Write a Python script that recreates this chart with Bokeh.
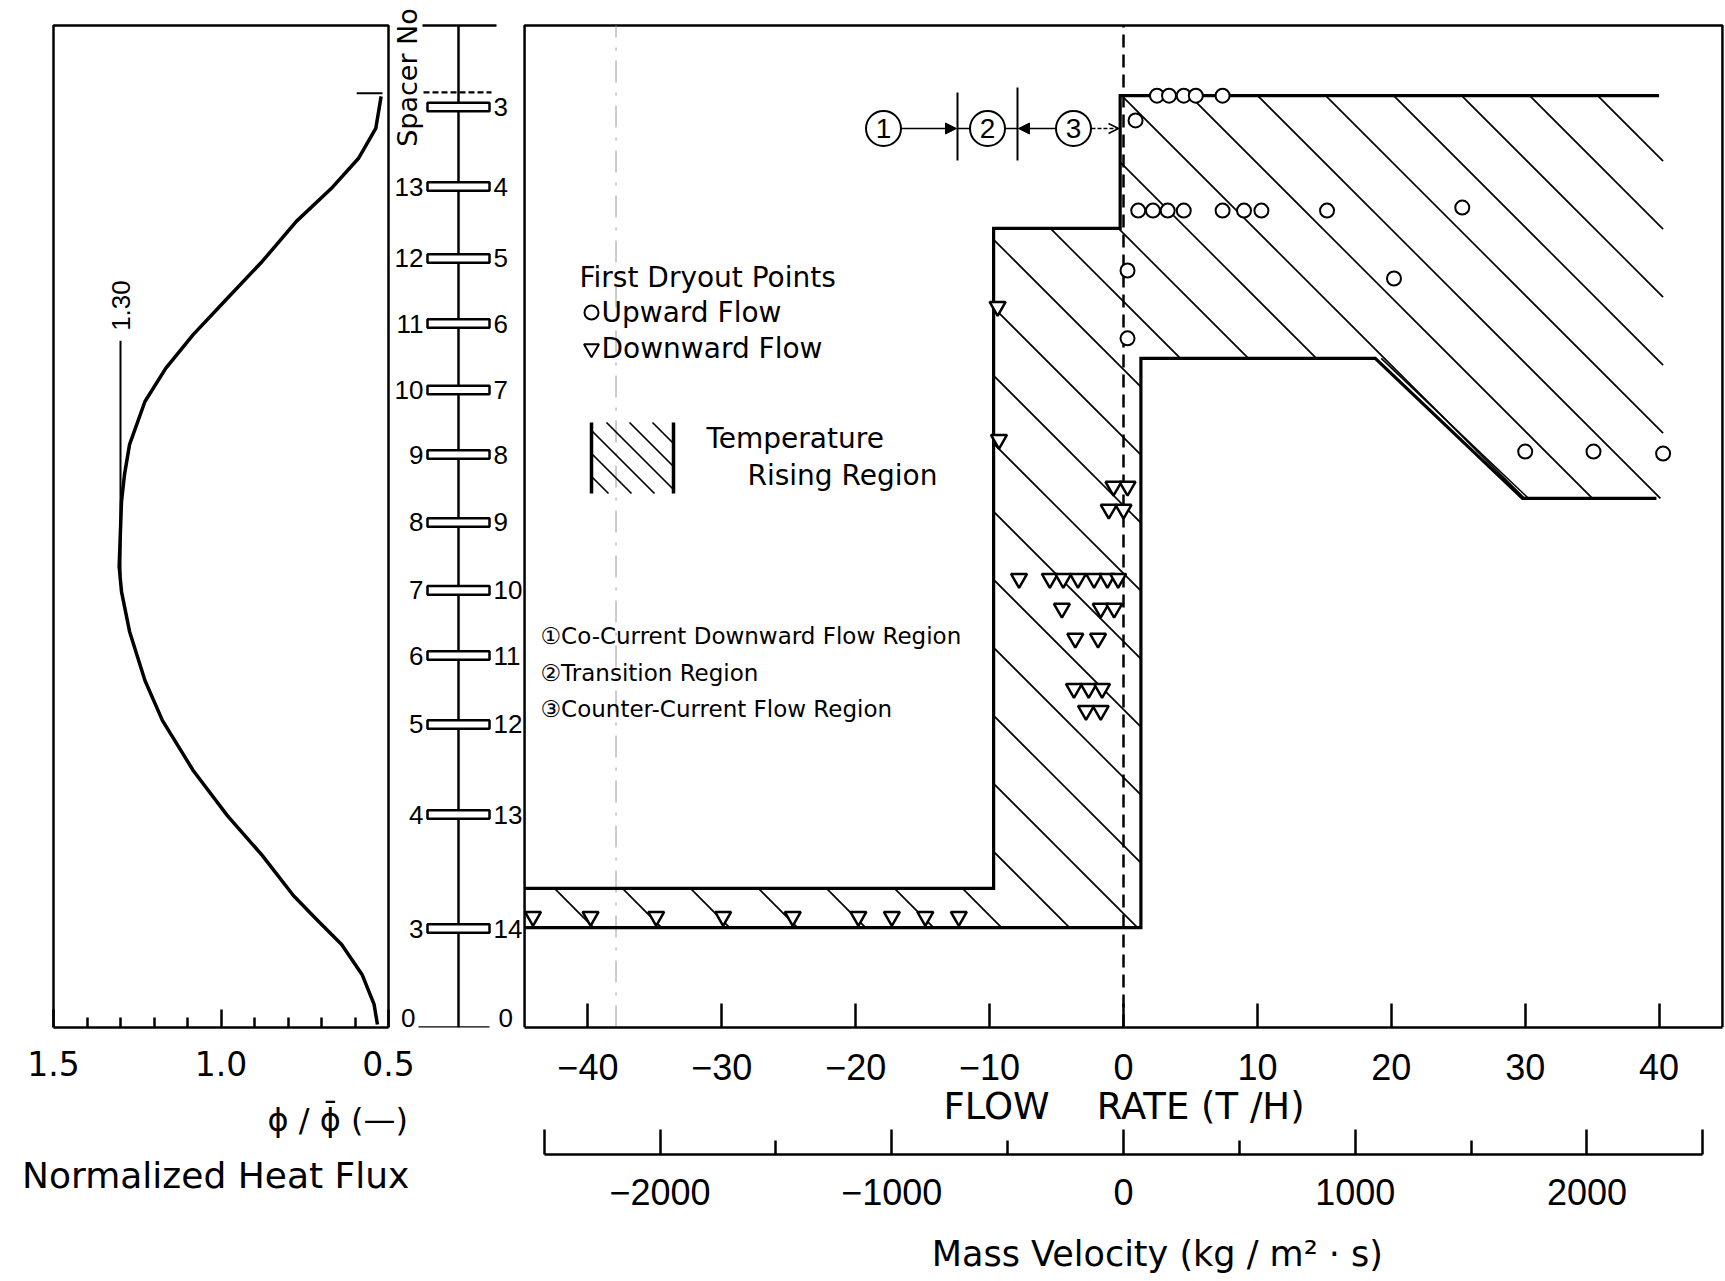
import math
from bokeh.plotting import figure
from bokeh.layouts import row
from bokeh.models import Range1d, LinearAxis, FixedTicker, Label, Arrow, NormalHead, OpenHead
from bokeh.embed import file_html
from bokeh.resources import INLINE
from bokeh.core.properties import value

# ---------------- data ----------------
# axial heat flux profile (height in mm from bottom of heated length)
flux_height_mm = [3717, 3589, 3469, 3349, 3218, 3058, 2898, 2766, 2631, 2499, 2327, 2208,
                  2100, 1840, 1740, 1581, 1385, 1226, 1026, 846, 687, 527, 429, 331, 212, 92, 12]
flux_ratio = [0.522, 0.538, 0.590, 0.671, 0.775, 0.877, 0.990, 1.083, 1.165, 1.227, 1.273, 1.288,
              1.297, 1.304, 1.297, 1.273, 1.227, 1.175, 1.083, 0.981, 0.877, 0.784, 0.713, 0.640,
              0.579, 0.543, 0.533]
peak_ratio = 1.30

# spacer grid positions and their numbers counted from either end
spacer_height_mm = [3675, 3357, 3070, 2810, 2545, 2287, 2016, 1745, 1485, 1210, 850, 395]
spacer_no_left = ["", "13", "12", "11", "10", "9", "8", "7", "6", "5", "4", "3"]
spacer_no_right = ["3", "4", "5", "6", "7", "8", "9", "10", "11", "12", "13", "14"]

# temperature rising region (flow rate T/H, height mm)
region_flow = [-0.25, 40.3, 40.3, 29.8, 18.8, 1.3, 1.3, -44.73, -44.73, -9.7, -9.7, -0.25]
region_height = [3720, 3720, 2112, 2112, 2671, 2671, 399, 399, 555, 555, 3190, 3190]
upper_edge_flow = [40.0, -0.25, -0.25, -9.7, -9.7, -44.73]
upper_edge_height = [3720, 3720, 3190, 3190, 555, 555]
lower_edge_flow = [-44.73, 1.3, 1.3, 18.8, 29.8, 39.8]
lower_edge_height = [399, 399, 2671, 2671, 2112, 2112]

# first dryout points, upward flow
up_flow = [2.5, 3.4, 4.5, 5.4, 7.4, 0.9, 1.1, 2.2, 3.3, 4.5, 7.4, 9.0, 10.3, 15.2, 25.3,
           20.2, 0.3, 0.3, 30.0, 35.1, 40.3]
up_height = [3720, 3720, 3720, 3720, 3720, 3621, 3261, 3261, 3261, 3261, 3261, 3261, 3261, 3261, 3273,
             2990, 3022, 2751, 2299, 2299, 2291]

# first dryout points, downward flow
down_flow = [-9.4, -9.3, -0.75, 0.3, -1.1, 0.0, -7.8, -5.5, -4.5, -3.4, -2.2, -1.2, -0.4,
             -4.6, -1.7, -0.7, -3.6, -1.9, -3.7, -2.6, -1.6, -2.8, -1.7,
             -44.1, -39.8, -34.9, -29.9, -24.7, -19.8, -17.3, -14.8, -12.3]
down_height = [2878, 2347, 2160, 2160, 2068, 2068, 1792, 1792, 1792, 1792, 1792, 1792, 1792,
               1673, 1673, 1673, 1553, 1553, 1353, 1353, 1353, 1265, 1265,
               443, 443, 443, 443, 443, 443, 443, 443, 443]

flow_ticks = [-40, -30, -20, -10, 0, 10, 20, 30, 40]
mass_ticks = [-2500, -2000, -1000, 0, 1000, 2000, 2500]
mass_minor = [-1500, -500, 500, 1500]
mass_labels = {-2500: "", -2000: "\u22122000", -1000: "\u22121000", 0: "0", 1000: "1000", 2000: "2000", 2500: ""}
flux_ticks = [1.5, 1.0, 0.5]
flux_minor = [1.4, 1.3, 1.2, 1.1, 0.9, 0.8, 0.7, 0.6]

# ---------------- scales ----------------
MM_PER_PX = 4000 / 1002          # vertical scale shared by both panels
BASE_PY = 1027                   # screen row of zero height
TOP_MM = BASE_PY * MM_PER_PX     # height at the top edge of the page
FLOW_PX = 13.39                  # pixels per T/H
FLOW_ZERO_PX = 1123
MAIN_LEFT_PX = 522
FLOW_LO = (MAIN_LEFT_PX - FLOW_ZERO_PX) / FLOW_PX
FLOW_HI = (1725 - FLOW_ZERO_PX) / FLOW_PX
FLOW_EDGE = 44.73
MASS_PER_FLOW = 57.78
PHI_PX = 335                     # pixels per unit of normalized flux
PHI_15_PX = 53                   # screen column of phi = 1.5
SPACER_PX = 458                  # screen column of the spacer scale

SANS = "Liberation Sans"
DJ = "DejaVu Sans"
NB = "\u00a0"


def fx(px):
    return (px - FLOW_ZERO_PX) / FLOW_PX


def hy(py):
    return (BASE_PY - py) * MM_PER_PX


def hatch_lines(poly_x, poly_y, spacing, phase):
    """45 degree hatch (falling to the right on screen) clipped to a polygon."""
    pts = [(FLOW_ZERO_PX + FLOW_PX * a, BASE_PY - b / MM_PER_PX) for a, b in zip(poly_x, poly_y)]
    n = len(pts)
    d = [py - px for px, py in pts]
    k0 = math.ceil((min(d) - phase) / spacing)
    k1 = math.floor((max(d) - phase) / spacing)
    xs, ys = [], []
    for k in range(k0, k1 + 1):
        c = phase + k * spacing
        hits = []
        for i in range(n):
            (x1, y1), (x2, y2) = pts[i], pts[(i + 1) % n]
            f1, f2 = y1 - x1 - c, y2 - x2 - c
            if (f1 < 0) != (f2 < 0):
                t = f1 / (f1 - f2)
                hits.append(x1 + t * (x2 - x1))
        hits.sort()
        for a, b in zip(hits[0::2], hits[1::2]):
            xs.append([fx(a), fx(b)])
            ys.append([hy(a + c), hy(b + c)])
    return xs, ys


def caption_axis(text, size, standoff):
    ax = LinearAxis(ticker=FixedTicker(ticks=[], minor_ticks=[]), axis_label=text)
    ax.axis_line_color = None
    ax.major_tick_in = 0
    ax.major_tick_out = 0
    ax.minor_tick_in = 0
    ax.minor_tick_out = 0
    ax.axis_label_standoff = standoff
    ax.axis_label_text_font = DJ
    ax.axis_label_text_font_size = size
    ax.axis_label_text_font_style = "normal"
    ax.axis_label_text_color = "black"
    return ax


# ---------------- left panel: heat flux + spacer column ----------------
phi_start = 1.5 + PHI_15_PX / PHI_PX
pa = figure(width=MAIN_LEFT_PX, height=1281,
            x_range=Range1d(phi_start, phi_start - MAIN_LEFT_PX / PHI_PX),
            y_range=Range1d(0, TOP_MM),
            min_border_left=0, min_border_right=0, min_border_top=0, min_border_bottom=254,
            x_axis_location=None, y_axis_location=None,
            output_backend="svg", toolbar_location=None)
pa.outline_line_color = None
pa.grid.visible = False
pa.extra_x_ranges = {"sp": Range1d(-SPACER_PX, MAIN_LEFT_PX - SPACER_PX)}

ax_phi = LinearAxis(ticker=FixedTicker(ticks=flux_ticks, minor_ticks=flux_minor), bounds=(1.5, 0.5),
                    major_label_overrides={1.5: "1.5", 1.0: "1.0", 0.5: "0.5"})
ax_phi.axis_line_width = 2.5
ax_phi.major_tick_in = 18
ax_phi.major_tick_out = 0
ax_phi.minor_tick_in = 10
ax_phi.minor_tick_out = 0
ax_phi.major_tick_line_width = 2.5
ax_phi.minor_tick_line_width = 2.5
ax_phi.major_label_standoff = 23
ax_phi.major_label_text_font = DJ
ax_phi.major_label_text_font_size = "33px"
ax_phi.major_label_text_color = "black"
pa.add_layout(ax_phi, "below")

pa.add_layout(caption_axis(NB * 15 + "\u03d5 / \u03d5\u0304 (\u2014)", "32px", 22), "below")
pa.add_layout(caption_axis("Normalized Heat Flux" + NB * 8, "36px", 13), "below")

# panel box
pa.line([1.5, 1.5, 0.5, 0.5], [0, 4000, 4000, 0], line_color="black", line_width=2.5)
# heat flux curve
pa.line(flux_ratio, flux_height_mm, line_color="black", line_width=3.5, line_join="round")
# top of heated length mark
pa.line([0.595, 0.518], [3730, 3730], line_color="black", line_width=2)
# peak value marker
pa.line([peak_ratio, peak_ratio], [2742, 1804], line_color="black", line_width=2)
pa.add_layout(Label(x=peak_ratio, y=2882, text=f"{peak_ratio:.2f}", angle=math.pi / 2,
                    text_align="center", text_baseline="middle", text_font=SANS,
                    text_font_size="26px", text_color="black"))

# spacer column
pa.line([0, 0], [0, 4000], x_range_name="sp", line_color="black", line_width=2.5)
pa.line([-36, 38], [4000, 4000], x_range_name="sp", line_color="black", line_width=2.5)
pa.line([-40, 31], [0, 0], x_range_name="sp", line_color="black", line_width=2.5)
pa.line([-35, 33], [3733, 3733], x_range_name="sp", line_color="black", line_width=2.2, line_dash="6 3")
pa.quad(left=-31, right=31, bottom=[h - 17 for h in spacer_height_mm], top=[h + 17 for h in spacer_height_mm],
        x_range_name="sp", fill_color="white", line_color="black", line_width=2.5)
pa.text(x=[-35] * len(spacer_height_mm), y=spacer_height_mm, text=spacer_no_left, x_range_name="sp",
        text_align="right", text_baseline="middle", text_font=value(SANS), text_font_size="26px")
pa.text(x=[35] * len(spacer_height_mm), y=spacer_height_mm, text=spacer_no_right, x_range_name="sp",
        text_align="left", text_baseline="middle", text_font=value(SANS), text_font_size="26px")
pa.text(x=[-43, 40], y=[36, 36], text=["0", "0"], x_range_name="sp", text_align=["right", "left"],
        text_baseline="middle", text_font=value(SANS), text_font_size="26px")
pa.add_layout(Label(x=-51, y=hy(77), x_range_name="sp", text="Spacer No",
                    angle=math.pi / 2, text_align="center", text_baseline="middle",
                    text_font=DJ, text_font_size="27px", text_color="black"))

# ---------------- main panel: flow rate ----------------
p = figure(width=1725 - MAIN_LEFT_PX, height=1281,
           x_range=Range1d(FLOW_LO, FLOW_HI), y_range=Range1d(0, TOP_MM),
           min_border_left=0, min_border_right=0, min_border_top=0, min_border_bottom=254,
           x_axis_location=None, y_axis_location=None,
           output_backend="svg", toolbar_location=None)
p.outline_line_color = None
p.grid.visible = False
p.extra_x_ranges = {"G": Range1d(FLOW_LO * MASS_PER_FLOW, FLOW_HI * MASS_PER_FLOW)}

ax_flow = LinearAxis(ticker=FixedTicker(ticks=flow_ticks, minor_ticks=[]), bounds=(-FLOW_EDGE, FLOW_EDGE),
                     major_label_overrides={t: (f"\u2212{-t}" if t < 0 else str(t)) for t in flow_ticks},
                     axis_label="FLOW" + NB * 4 + "RATE" + NB + "(T" + NB + "/H)")
ax_flow.axis_line_width = 2.5
ax_flow.major_tick_in = 24
ax_flow.major_tick_out = 0
ax_flow.minor_tick_in = 0
ax_flow.minor_tick_out = 0
ax_flow.major_tick_line_width = 2.5
ax_flow.major_label_standoff = 26
ax_flow.major_label_text_font = SANS
ax_flow.major_label_text_font_size = "36px"
ax_flow.major_label_text_color = "black"
ax_flow.axis_label_standoff = 2
ax_flow.axis_label_text_font = DJ
ax_flow.axis_label_text_font_size = "37px"
ax_flow.axis_label_text_font_style = "normal"
ax_flow.axis_label_text_color = "black"
p.add_layout(ax_flow, "below")

# blank band between the two scales
p.add_layout(caption_axis(NB, "18px", 0), "below")

ax_mass = LinearAxis(x_range_name="G", ticker=FixedTicker(ticks=mass_ticks, minor_ticks=mass_minor),
                     bounds=(-2500, 2500), major_label_overrides=mass_labels,
                     axis_label=NB * 6 + "Mass Velocity (kg / m\u00b2 \u00b7 s)")
ax_mass.axis_line_width = 2.5
ax_mass.major_tick_in = 25
ax_mass.major_tick_out = 0
ax_mass.minor_tick_in = 14
ax_mass.minor_tick_out = 0
ax_mass.major_tick_line_width = 2.5
ax_mass.minor_tick_line_width = 2.5
ax_mass.major_label_standoff = 24
ax_mass.major_label_text_font = SANS
ax_mass.major_label_text_font_size = "36px"
ax_mass.major_label_text_color = "black"
ax_mass.axis_label_standoff = 26
ax_mass.axis_label_text_font = DJ
ax_mass.axis_label_text_font_size = "35px"
ax_mass.axis_label_text_font_style = "normal"
ax_mass.axis_label_text_color = "black"
p.add_layout(ax_mass, "below")

# panel box
p.line([-FLOW_EDGE, -FLOW_EDGE, FLOW_EDGE, FLOW_EDGE], [0, 4000, 4000, 0], line_color="black", line_width=2.5)

# faint reference line
p.line([-37.9, -37.9], [0, 4000], line_color="#9a9a9a", line_width=1, line_dash="22 10 3 10")

# temperature rising region
hx, hyy = hatch_lines(region_flow, region_height, 68, -1366)
p.multi_line(hx, hyy, line_color="black", line_width=1.7)
p.line(upper_edge_flow, upper_edge_height, line_color="black", line_width=3.2, line_join="miter")
p.line(lower_edge_flow, lower_edge_height, line_color="black", line_width=3.2, line_join="miter")
p.line([lower_edge_flow[3] + 0.45, lower_edge_flow[4] + 0.45], [lower_edge_height[3], lower_edge_height[4]],
       line_color="black", line_width=1.5)

# zero flow line
p.line([0, 0], [0, 4000], line_color="black", line_width=2.5, line_dash="13 7")

# dryout points
p.scatter(up_flow, up_height, marker="circle", size=14, fill_color="white",
          line_color="black", line_width=2)
p.scatter(down_flow, down_height, marker="inverted_triangle", size=16, fill_color="white",
          line_color="black", line_width=2.5)

# region key
ky = hy(128)
p.line([fx(957), fx(957)], [hy(92), hy(160)], line_color="black", line_width=2)
p.line([fx(1017), fx(1017)], [hy(87), hy(160)], line_color="black", line_width=2)
p.line([fx(957), fx(970)], [ky, ky], line_color="black", line_width=1.5)
p.line([fx(1004), fx(1017)], [ky, ky], line_color="black", line_width=1.5)
p.add_layout(Arrow(end=NormalHead(size=11, fill_color="black", line_color="black"),
                   x_start=fx(901), y_start=ky, x_end=fx(956), y_end=ky, line_width=1.5))
p.add_layout(Arrow(end=NormalHead(size=11, fill_color="black", line_color="black"),
                   x_start=fx(1056), y_start=ky, x_end=fx(1018), y_end=ky, line_width=1.5))
p.add_layout(Arrow(end=OpenHead(size=10, line_color="black", line_width=1.5),
                   x_start=fx(1091), y_start=ky, x_end=fx(1118), y_end=ky, line_width=1.5,
                   line_dash="4 2"))
p.scatter([fx(883), fx(987), fx(1073)], [ky] * 3, marker="circle", size=35, fill_color="white",
          line_color="black", line_width=2)
p.text([fx(883), fx(987), fx(1073)], [ky] * 3, text=["1", "2", "3"], text_align="center",
       text_baseline="middle", text_font=value(SANS), text_font_size="28px")

# legend for dryout points
p.text([fx(579)], [hy(277)], text=["First Dryout Points"], text_baseline="middle",
       text_font=value(DJ), text_font_size="28px")
p.scatter([fx(591)], [hy(312)], marker="circle", size=14, fill_color="white", line_color="black", line_width=2)
p.text([fx(601)], [hy(312)], text=["Upward Flow"], text_baseline="middle",
       text_font=value(DJ), text_font_size="28px")
p.scatter([fx(591)], [hy(348)], marker="inverted_triangle", size=15, fill_color="white",
          line_color="black", line_width=2)
p.text([fx(601)], [hy(348)], text=["Downward Flow"], text_baseline="middle",
       text_font=value(DJ), text_font_size="28px")

# legend for hatched region
kx = [fx(591), fx(673), fx(673), fx(591)]
khh = [hy(422), hy(422), hy(493), hy(493)]
lx, lyy = hatch_lines(kx, khh, 23, 0)
p.multi_line(lx, lyy, line_color="black", line_width=1.7)
p.line([kx[0], kx[0]], [khh[0], khh[2]], line_color="black", line_width=3.5)
p.line([kx[1], kx[1]], [khh[0], khh[2]], line_color="black", line_width=3.5)
p.text([fx(706)], [hy(438)], text=["Temperature"], text_baseline="middle",
       text_font=value(DJ), text_font_size="28px")
p.text([fx(747)], [hy(475)], text=["Rising Region"], text_baseline="middle",
       text_font=value(DJ), text_font_size="28px")

# region names
p.text([fx(540)] * 3, [hy(635), hy(672), hy(708)],
       text=["\u2460Co-Current Downward Flow  Region", "\u2461Transition  Region",
             "\u2462Counter-Current Flow  Region"],
       text_baseline="middle", text_font=value(DJ), text_font_size="23px")

layout = row(pa, p)
open("out.html", "w").write(file_html(layout, INLINE))
